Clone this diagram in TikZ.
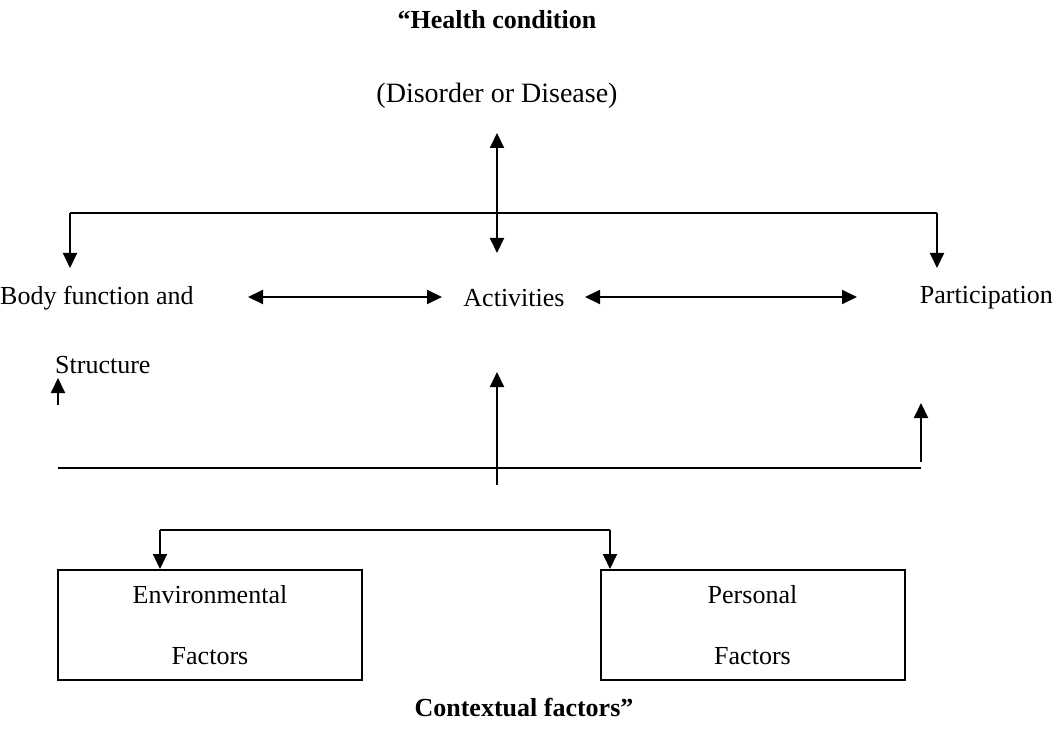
\documentclass[tikz,border=0pt]{standalone}
\usepackage{fontspec}
\setmainfont{Liberation Serif}
\usetikzlibrary{arrows.meta}
\begin{document}
\begin{tikzpicture}[x=1pt,y=-1pt,
  txt/.style={inner sep=0pt, font=\fontsize{26}{31}\selectfont},
  btxt/.style={inner sep=0pt, font=\fontsize{26}{31}\selectfont\bfseries},
  ln/.style={line width=2pt},
  tip/.tip={Triangle[width=14pt,length=15pt]},
  arr/.style={ln,-tip},
  darr/.style={ln,tip-tip},
  fbox/.style={draw, line width=2pt, minimum width=304pt, minimum height=110pt, inner sep=0pt, align=center, font=\fontsize{26}{31}\selectfont}]
\useasboundingbox (0,0) rectangle (1053,738);
% texts
\node[btxt] (hc) at (497,20) {“Health condition};
\node[txt, font=\fontsize{28}{33}\selectfont] (dd) at (497,96) {(Disorder or Disease)};
\node[txt, anchor=west] (bf) at (0,298) {Body function and};
\node[txt, anchor=west] (st) at (55,365) {Structure};
\node[txt] (ac) at (514,298) {Activities};
\node[txt, anchor=east] (pa) at (1053,298) {Participation};
\node[fbox] (env) at (210,625) {Environmental\\[30pt]Factors};
\node[fbox] (per) at (752.5,625) {Personal\\[30pt]Factors};
\node[btxt] (cf) at (524,708) {Contextual factors”};
% coordinates
\coordinate (hT) at (497,133);
\coordinate (hB) at (497,253);
\coordinate (tL) at (70,213);
\coordinate (tR) at (937,213);
\coordinate (tLe) at (70,268);
\coordinate (tRe) at (937,268);
\coordinate (a1L) at (248,297);
\coordinate (a1R) at (442,297);
\coordinate (a2L) at (585,297);
\coordinate (a2R) at (857,297);
\coordinate (lL) at (58,468);
\coordinate (lR) at (921,468);
\coordinate (sLt) at (58,378);
\coordinate (sLb) at (58,405);
\coordinate (sRt) at (921,403);
\coordinate (sRb) at (921,462);
\coordinate (mB) at (497,485);
\coordinate (mT) at (497,372);
\coordinate (bL) at (160,530);
\coordinate (bR) at (610,530);
% connectors
\draw[darr] (hB) -- (hT);
\draw[ln] (tL) -- (tR);
\draw[arr] (tL) -- (tLe);
\draw[arr] (tR) -- (tRe);
\draw[darr] (a1L) -- (a1R);
\draw[darr] (a2L) -- (a2R);
\draw[ln] (lL) -- (lR);
\draw[arr] (sLb) -- (sLt);
\draw[arr] (sRb) -- (sRt);
\draw[arr] (mB) -- (mT);
\draw[ln] (bL) -- (bR);
\draw[arr] (bL) -- (bL |- env.north);
\draw[arr] (bR) -- (bR |- per.north);
\end{tikzpicture}
\end{document}
